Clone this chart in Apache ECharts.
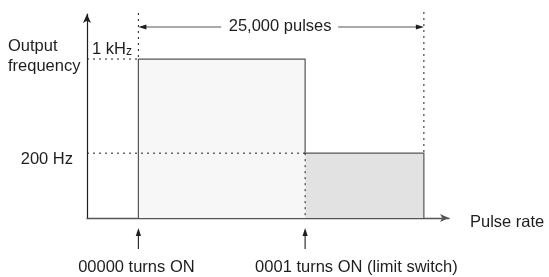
<!DOCTYPE html>
<html>
<head>
<meta charset="utf-8">
<script src="https://cdn.jsdelivr.net/npm/echarts@6/dist/echarts.min.js"></script>
<style>
  html, body { margin: 0; background: #fff; }
  #chart { width: 549px; height: 277px; }
</style>
</head>
<body>
<div id="chart"></div>
<script>
// x = pulse count (schematic), y = output frequency in Hz (log axis)
const pulseStart = [4500, 19100];
const pulseEnd = [19100, 29500];
const freqHz = [1000, 200];
const freqLabels = ['1 kHz', '200 Hz'];
const eventPulse = [4500, 19100];
const eventLabels = ['00000 turns ON', '0001 turns ON (limit switch)'];
const spanLabel = '25,000 pulses';
const xName = 'Pulse rate';
const yName = 'Output\nfrequency';

const xMax = 31700, yMin = 66, yMax = 2160;
const FONT = '"Liberation Sans", Arial, Helvetica, sans-serif';
const FS = 16.5;
const ink = '#1e1e1e';
const edge = '#555';
const fills = ['#f7f7f7', '#e2e2e2'];

const chart = echarts.init(document.getElementById('chart'));

// filled blocks, one per speed
function drawBlock(params, api) {
  const p0 = api.coord([api.value(0), api.value(2)]);
  const p1 = api.coord([api.value(1), yMin]);
  return {
    type: 'rect',
    shape: { x: p0[0], y: p0[1], width: p1[0] - p0[0], height: p1[1] - p0[1] },
    style: { fill: fills[params.dataIndex] }
  };
}

function txt(text, x, y, align, extra) {
  return {
    type: 'text',
    style: Object.assign({
      text: text, x: x, y: y, fill: ink,
      fontSize: FS, fontFamily: FONT,
      align: align, verticalAlign: 'middle'
    }, extra || {})
  };
}

// outline, guides, dimension line, arrows and labels
function drawNotes(params, api) {
  const c = (x, y) => api.coord([x, y]);
  const axisX = c(0, yMin)[0];
  const base = c(0, yMin)[1];
  const top = c(0, yMax)[1];
  const right = c(xMax, yMin)[0];
  const xs = pulseStart.map(v => c(v, yMin)[0]);
  const xe = pulseEnd.map(v => c(v, yMin)[0]);
  const yf = freqHz.map(v => c(0, v)[1]);
  const last = xe.length - 1;

  const dot = { stroke: ink, lineWidth: 1, lineDash: [2, 4], fill: null };
  const solid = { stroke: edge, lineWidth: 1.2, fill: null };
  const kids = [];

  // step outline
  const pts = [[xs[0], base]];
  xs.forEach((x, i) => { pts.push([x, yf[i]]); pts.push([xe[i], yf[i]]); });
  pts.push([xe[last], base]);
  kids.push({ type: 'polyline', shape: { points: pts }, style: solid });

  // dotted guides
  yf.forEach((y, i) => {
    kids.push({ type: 'line', shape: { x1: axisX, y1: y, x2: xs[i], y2: y }, style: dot });
  });
  kids.push({ type: 'line', shape: { x1: xs[0], y1: top - 1, x2: xs[0], y2: yf[0] }, style: dot });
  kids.push({ type: 'line', shape: { x1: xe[last], y1: top - 2, x2: xe[last], y2: yf[last] }, style: dot });
  for (let i = 1; i < xs.length; i++) {
    kids.push({ type: 'line', shape: { x1: xs[i], y1: yf[i], x2: xs[i], y2: base }, style: dot });
  }

  // 25,000 pulses dimension line
  const dy = top + 13;
  const cx = (xs[0] + xe[last]) / 2;
  const dim = { stroke: edge, lineWidth: 1.1 };
  kids.push({ type: 'line', shape: { x1: xs[0] + 4, y1: dy, x2: cx - 60, y2: dy }, style: dim });
  kids.push({ type: 'line', shape: { x1: cx + 57, y1: dy, x2: xe[last] - 4, y2: dy }, style: dim });
  kids.push({ type: 'polygon', shape: { points: [[xs[0], dy], [xs[0] + 8, dy - 2.6], [xs[0] + 8, dy + 2.6]] }, style: { fill: ink } });
  kids.push({ type: 'polygon', shape: { points: [[xe[last], dy], [xe[last] - 8, dy - 2.6], [xe[last] - 8, dy + 2.6]] }, style: { fill: ink } });
  kids.push(txt(spanLabel, cx - 1, dy - 1, 'center'));

  // frequency labels
  kids.push(txt('{a|1 kH}{b|z}', axisX + 5, yf[0] - 10, 'left', {
    rich: {
      a: { fontSize: FS, fontFamily: FONT, fill: ink, verticalAlign: 'bottom' },
      b: { fontSize: 12, fontFamily: FONT, fill: ink, verticalAlign: 'bottom' }
    }
  }));
  kids.push(txt(freqLabels[1], axisX - 14, yf[1] + 6, 'right'));

  // event arrows and labels
  eventPulse.forEach((v, i) => {
    const x = c(v, yMin)[0];
    kids.push({ type: 'polygon', shape: { points: [[x, base + 10], [x - 2.6, base + 18], [x + 2.6, base + 18]] }, style: { fill: ink } });
    kids.push({ type: 'line', shape: { x1: x, y1: base + 16, x2: x, y2: base + 31 }, style: { stroke: ink, lineWidth: 1.1 } });
    if (i === 0) kids.push(txt(eventLabels[i], x - 2, base + 49, 'center'));
    else kids.push(txt(eventLabels[i], x - 50, base + 49, 'left'));
  });

  // axis names
  kids.push(txt(xName, right + 21, base + 4, 'left'));
  kids.push(txt(yName, axisX - 79, top + 42, 'left', { lineHeight: 20 }));

  return { type: 'group', children: kids };
}

chart.setOption({
  animation: false,
  grid: { left: 87, top: 14, right: 100, bottom: 59 },
  xAxis: {
    type: 'value', min: 0, max: xMax,
    axisLine: { show: true, onZero: false, symbol: ['none', 'arrow'], symbolSize: [6, 9],
      lineStyle: { color: edge, width: 1.4 } },
    axisTick: { show: false }, axisLabel: { show: false }, splitLine: { show: false }
  },
  yAxis: {
    type: 'log', logBase: 10, min: yMin, max: yMax,
    axisLine: { show: true, symbol: ['none', 'arrow'], symbolSize: [6, 9],
      lineStyle: { color: ink, width: 1.2 } },
    axisTick: { show: false }, axisLabel: { show: false }, splitLine: { show: false }
  },
  series: [
    {
      type: 'custom', name: 'speed', z: 1,
      renderItem: drawBlock,
      encode: { x: [0, 1], y: 2 },
      data: pulseStart.map((s, i) => [s, pulseEnd[i], freqHz[i]])
    },
    {
      type: 'custom', name: 'notes', z: 3,
      renderItem: drawNotes,
      data: [[0, yMin]],
      silent: true, clip: false
    }
  ]
});
</script>
</body>
</html>
